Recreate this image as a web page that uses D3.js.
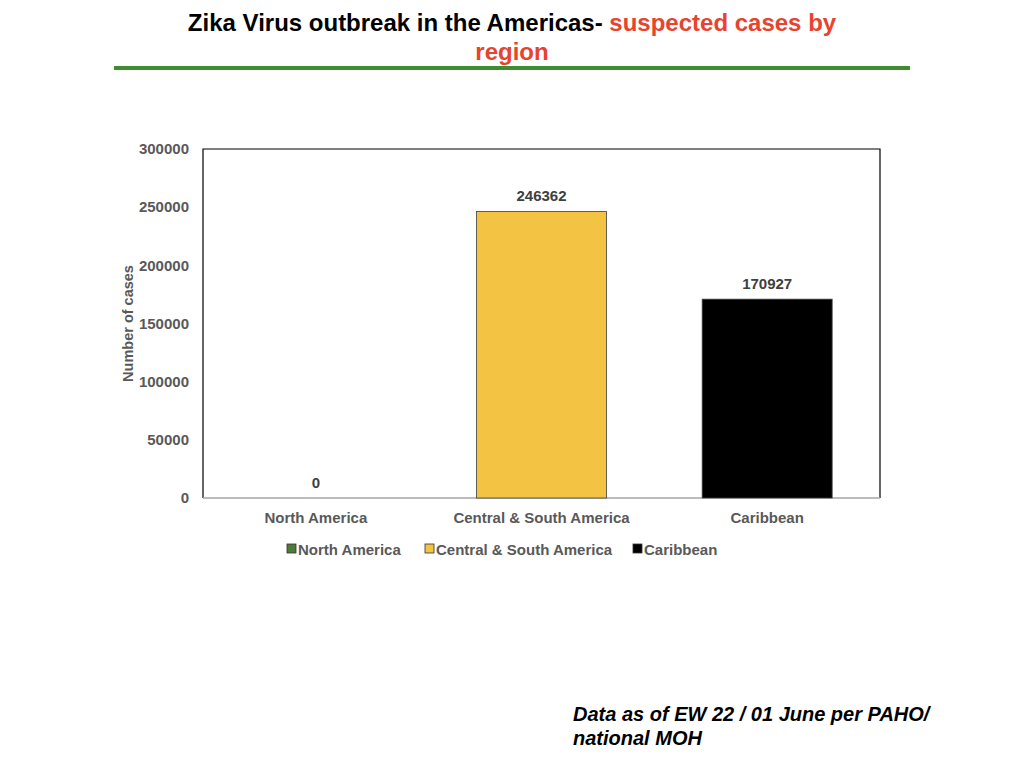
<!DOCTYPE html>
<html>
<head>
<meta charset="utf-8">
<script src="https://cdn.jsdelivr.net/npm/d3@7"></script>
<style>
  body { margin: 0; background: #fff; }
  svg { display: block; font-family: "Liberation Sans", Arial, sans-serif; }
</style>
</head>
<body>
<svg id="chart" width="1024" height="768"></svg>
<script>
// Zika suspected cases by region (EW 22)
const regions = ['North America', 'Central & South America', 'Caribbean'];
const cases = [0, 246362, 170927];
const regionColors = ['#4f7a3a', '#f3c343', '#000000'];
const yTicks = [0, 50000, 100000, 150000, 200000, 250000, 300000];

const svg = d3.select('#chart');

// title block
const title = svg.append('text')
  .attr('x', 512).attr('y', 31)
  .attr('text-anchor', 'middle')
  .style('font-size', '24px').style('font-weight', '700');
title.append('tspan').attr('fill', '#000').text('Zika Virus outbreak in the Americas- ');
title.append('tspan').attr('fill', '#e8432e').text('suspected cases by');
svg.append('text')
  .attr('x', 512).attr('y', 60)
  .attr('text-anchor', 'middle')
  .attr('fill', '#e8432e')
  .style('font-size', '24px').style('font-weight', '700')
  .text('region');
svg.append('rect')
  .attr('x', 114).attr('y', 66).attr('width', 796).attr('height', 4)
  .attr('fill', '#3e8e2f');

// plot area
const plotLeft = 203, plotRight = 880, plotTop = 149, plotBottom = 498;

const x = d3.scaleBand()
  .domain(regions)
  .range([plotLeft, plotRight])
  .paddingInner(0.424)
  .paddingOuter(0.212);

const y = d3.scaleLinear()
  .domain([0, 300000])
  .range([plotBottom, plotTop]);

// frame
svg.append('path')
  .attr('d', `M${plotLeft},${plotBottom}V${plotTop}H${plotRight}V${plotBottom}`)
  .attr('fill', 'none').attr('stroke', '#000').attr('stroke-width', 1.2);

const yAxis = svg.append('g')
  .attr('transform', `translate(${plotLeft},0)`)
  .call(d3.axisLeft(y).tickValues(yTicks).tickSize(0).tickPadding(14).tickFormat(d3.format('d')));
yAxis.select('.domain').remove();
yAxis.selectAll('text')
  .attr('fill', '#595959')
  .style('font-size', '15px').style('font-weight', '700')
  .style('font-family', '"Liberation Sans", Arial, sans-serif');

const xAxis = svg.append('g')
  .attr('transform', `translate(0,${plotBottom})`)
  .call(d3.axisBottom(x).tickSize(0).tickPadding(14));
xAxis.select('.domain').attr('stroke', '#a6a6a6').attr('stroke-width', 1.5)
  .attr('d', `M${plotLeft},0H${plotRight}`);
xAxis.selectAll('text')
  .attr('fill', '#595959')
  .style('font-size', '15px').style('font-weight', '700')
  .style('font-family', '"Liberation Sans", Arial, sans-serif');

svg.append('text')
  .attr('transform', `translate(133,${(plotTop + plotBottom) / 2}) rotate(-90)`)
  .attr('text-anchor', 'middle')
  .attr('fill', '#595959')
  .style('font-size', '14.5px').style('font-weight', '700')
  .text('Number of cases');

// bars
svg.selectAll('.bar')
  .data(regions)
  .join('rect')
  .attr('class', 'bar')
  .attr('x', d => x(d))
  .attr('width', x.bandwidth())
  .attr('y', (d, i) => y(cases[i]))
  .attr('height', (d, i) => y(0) - y(cases[i]))
  .attr('fill', (d, i) => regionColors[i])
  .attr('stroke', (d, i) => cases[i] > 0 ? '#3f3f3f' : 'none')
  .attr('stroke-width', 0.8);

svg.selectAll('.val')
  .data(regions)
  .join('text')
  .attr('class', 'val')
  .attr('x', d => x(d) + x.bandwidth() / 2)
  .attr('y', (d, i) => y(cases[i]) - 10)
  .attr('text-anchor', 'middle')
  .attr('fill', '#404040')
  .style('font-size', '15px').style('font-weight', '700')
  .text((d, i) => cases[i]);

// legend
const legendX = [287, 425, 633];
const legend = svg.selectAll('.leg')
  .data(regions)
  .join('g')
  .attr('class', 'leg')
  .attr('transform', (d, i) => `translate(${legendX[i]},549)`);
legend.append('rect')
  .attr('x', 0).attr('y', -5).attr('width', 9).attr('height', 9)
  .attr('fill', (d, i) => regionColors[i])
  .attr('stroke', '#333').attr('stroke-width', 0.8);
legend.append('text')
  .attr('x', 11).attr('y', 5.5)
  .attr('fill', '#595959')
  .style('font-size', '15px').style('font-weight', '700')
  .text(d => d);

// footnote
const note = svg.append('text')
  .attr('fill', '#000')
  .style('font-size', '20px').style('font-weight', '700').style('font-style', 'italic');
note.append('tspan').attr('x', 573).attr('y', 721).text('Data as of EW 22 / 01 June per PAHO/');
note.append('tspan').attr('x', 573).attr('y', 745).text('national MOH');
</script>
</body>
</html>
